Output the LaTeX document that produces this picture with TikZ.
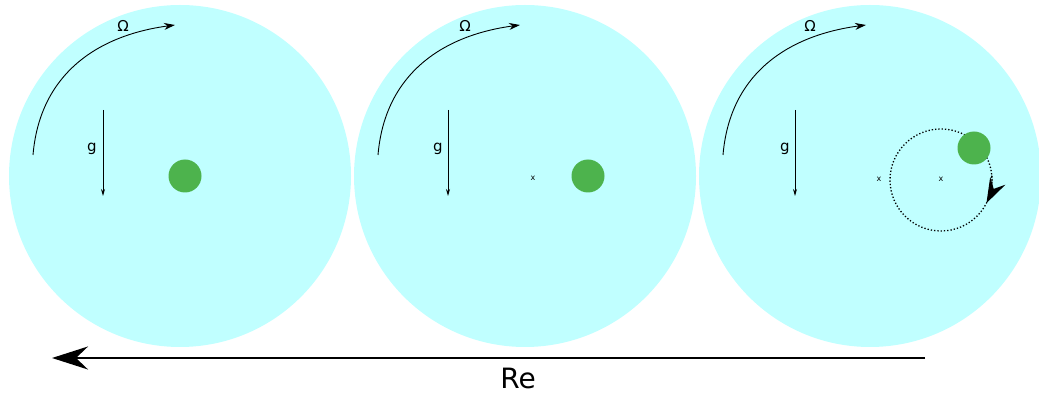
\documentclass[tikz,border=0pt]{standalone}
\usepackage{fontspec}
\setmainfont{DejaVu Sans}
\usetikzlibrary{arrows.meta,calc}
\definecolor{fluid}{HTML}{C0FFFF}
\definecolor{ball}{HTML}{4DB34D}
\tikzset{
  disc/.style={circle,fill=fluid,draw=none,minimum size=342pt,inner sep=0pt},
  dot/.style={circle,fill=ball,draw=none,minimum size=33pt,inner sep=0pt},
  xmark/.style={font=\fontsize{8}{8}\selectfont,inner sep=0pt},
  lbl/.style={font=\fontsize{15}{15}\selectfont,inner sep=0pt},
  rot/.style={line width=0.9pt,-{Stealth[length=11pt,width=7pt]}},
  grav/.style={line width=0.9pt,-{Stealth[length=7pt,width=4pt]}},
}
\begin{document}
\begin{tikzpicture}[x=1pt,y=-1pt]
\useasboundingbox (0,0) rectangle (1039,395);
% discs
\node[disc] (d1) at (180,176) {};
\node[disc] (d2) at (525,176) {};
\node[disc] (d3) at (870,176) {};
% panel 1
\coordinate (a1s) at (33,155); \coordinate (a1e) at (175,25);
\draw[rot] (a1s) .. controls (40,72) and (100,35) .. (a1e);
\node[lbl] (o1) at (123,26) {Ω};
\coordinate (g1s) at (103,110); \coordinate (g1e) at (103,196);
\draw[grav] (g1s) -- (g1e);
\node[lbl] (gl1) at (92,149) {g};
\node[dot] (b1) at (185,176) {};
% panel 2
\coordinate (a2s) at (378,155); \coordinate (a2e) at (520,25);
\draw[rot] (a2s) .. controls (385,72) and (445,35) .. (a2e);
\node[lbl] (o2) at (465,26) {Ω};
\coordinate (g2s) at (448,110); \coordinate (g2e) at (448,196);
\draw[grav] (g2s) -- (g2e);
\node[lbl] (gl2) at (438,149) {g};
\node[xmark] (x2) at (533,178) {x};
\node[dot] (b2) at (588,176) {};
% panel 3
\coordinate (a3s) at (723,155); \coordinate (a3e) at (866,25);
\draw[rot] (a3s) .. controls (730,72) and (790,35) .. (a3e);
\node[lbl] (o3) at (810,26) {Ω};
\coordinate (g3s) at (795,110); \coordinate (g3e) at (795,196);
\draw[grav] (g3s) -- (g3e);
\node[lbl] (gl3) at (785,149) {g};
\node[xmark] (x3a) at (879,179) {x};
\node[xmark] (x3b) at (941,179) {x};
\coordinate (oc) at (941,180);
\draw[dotted,line width=1.3pt] (oc) circle[radius=51];
\draw[line width=1.3pt,dotted,-{Stealth[length=25pt,width=17pt,inset=9pt]}]
  ($(oc)+(-5:51)$) arc[start angle=-5,end angle=27,radius=51];
\node[dot] (b3) at (974,148) {};
% Re arrow
\coordinate (rs) at (925,358); \coordinate (re) at (52,358);
\draw[line width=2.2pt,-{Stealth[length=36pt,width=23pt,inset=12pt]}] (rs) -- (re);
\node[font=\fontsize{28}{28}\selectfont,inner sep=0pt] (rel) at (518,378) {Re};
\end{tikzpicture}
\end{document}
